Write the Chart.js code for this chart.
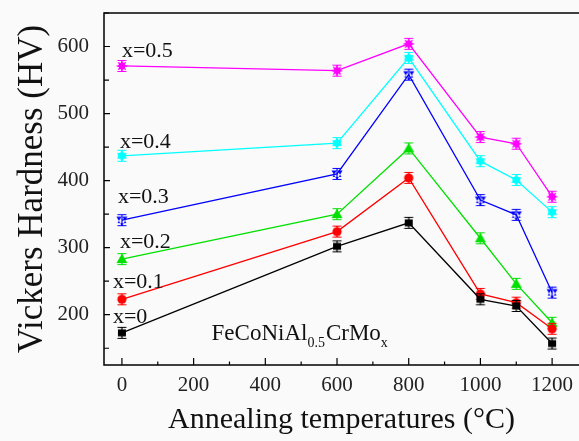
<!DOCTYPE html>
<html>
<head>
<meta charset="utf-8">
<script src="https://cdn.jsdelivr.net/npm/chart.js@4.4.1/dist/chart.umd.min.js"></script>
<style>
  html, body { margin: 0; padding: 0; background: #fafafa; overflow: hidden; }
  #wrap { width: 579px; height: 441px; }
</style>
</head>
<body>
<div id="wrap"><canvas id="hvChart"></canvas></div>
<script>
// annealing temperature (C) and hardness (HV) per Mo content
const temps = [0, 600, 800, 1000, 1100, 1200];
const hvMo0 = [173, 302, 337, 223, 213, 157];
const hvMo01 = [223, 324, 404, 231, 218, 179];
const hvMo02 = [283, 350, 448, 314, 246, 188];
const hvMo03 = [341, 410, 558, 371, 349, 233];
const hvMo04 = [437, 456, 583, 429, 401, 353];
const hvMo05 = [571, 564, 604, 465, 455, 376];
const seriesNames = ["x=0", "x=0.1", "x=0.2", "x=0.3", "x=0.4", "x=0.5"];
const xTicks = [0, 200, 400, 600, 800, 1000, 1200];
const yTicks = [200, 300, 400, 500, 600];

const SERIF = "'Liberation Serif', 'Times New Roman', serif";

// little marker images (shape + error bar caps)
function marker(color, shape) {
  const c = document.createElement("canvas");
  c.width = 14; c.height = 14;
  const g = c.getContext("2d");
  g.fillStyle = color;
  g.strokeStyle = color;
  g.lineWidth = 1.2;
  const cx = 7, cy = 7;
  g.beginPath();
  g.moveTo(2.5, 1.5); g.lineTo(11.5, 1.5);
  g.moveTo(2.5, 12.5); g.lineTo(11.5, 12.5);
  g.moveTo(cx, 1.5); g.lineTo(cx, 12.5);
  g.stroke();
  g.beginPath();
  if (shape === "square") {
    g.rect(cx - 4, cy - 3.5, 8, 7);
  } else if (shape === "circle") {
    g.arc(cx, cy, 4.6, 0, Math.PI * 2);
  } else if (shape === "triangle") {
    g.moveTo(cx, cy - 5.5); g.lineTo(cx + 5.5, cy + 4); g.lineTo(cx - 5.5, cy + 4); g.closePath();
  } else if (shape === "star") {
    g.moveTo(cx, cy + 6); g.lineTo(cx + 5.5, cy - 3.5); g.lineTo(cx - 5.5, cy - 3.5); g.closePath();
    g.moveTo(cx, cy - 4); g.lineTo(cx + 4.5, cy + 3); g.lineTo(cx - 4.5, cy + 3); g.closePath();
  } else if (shape === "hexagram") {
    for (let i = 0; i < 12; i++) {
      const r = i % 2 ? 3.6 : 5.6;
      const a = Math.PI / 6 * i - Math.PI / 2;
      g.lineTo(cx + r * Math.cos(a), cy + r * Math.sin(a));
    }
    g.closePath();
  } else {
    for (let i = 0; i < 16; i++) {
      const r = i % 2 ? 3.2 : 6;
      const a = Math.PI / 8 * i;
      g.lineTo(cx + r * Math.cos(a), cy + r * Math.sin(a));
    }
    g.closePath();
  }
  g.fill();
  return c;
}

const colors = ["#000000", "#ff0000", "#00e000", "#0000ff", "#00ffff", "#ff00ff"];
const shapes = ["square", "circle", "triangle", "star", "hexagram", "spiky"];
const values = [hvMo0, hvMo01, hvMo02, hvMo03, hvMo04, hvMo05];

// label offsets from the first point of each series (px)
const labelOffsets = [[-9, -10], [-9, -11], [-2, -11], [-4, -17], [-2, -8], [0, -9]];

const framePlugin = {
  id: "frame",
  afterDatasetsDraw(chart) {
    const { ctx, chartArea: a, scales } = chart;
    const xs = scales.x, ys = scales.y;
    ctx.save();
    ctx.strokeStyle = "#000";
    ctx.lineWidth = 1.5;
    ctx.beginPath();
    ctx.moveTo(chart.width, a.top); ctx.lineTo(a.left, a.top);
    ctx.lineTo(a.left, a.bottom); ctx.lineTo(chart.width, a.bottom);
    ctx.stroke();
    ctx.lineWidth = 1.2;
    ctx.beginPath();
    for (let v = 150; v <= 650; v += 50) {
      const y = ys.getPixelForValue(v);
      const len = v % 100 === 0 ? 6 : 5;
      ctx.moveTo(a.left, y); ctx.lineTo(a.left + len, y);
    }
    for (let v = 0; v <= 1250; v += 100) {
      const x = xs.getPixelForValue(v);
      const len = v % 200 === 0 ? 7 : 3.5;
      ctx.moveTo(x, a.bottom); ctx.lineTo(x, a.bottom - len);
    }
    ctx.stroke();

    ctx.fillStyle = "#111";
    ctx.font = "22px " + SERIF;
    ctx.textBaseline = "alphabetic";
    seriesNames.forEach((name, i) => {
      const p = chart.getDatasetMeta(i).data[0];
      ctx.fillText(name, p.x + labelOffsets[i][0], p.y + labelOffsets[i][1]);
    });

    // FeCoNiAl0.5CrMox
    let x = xs.getPixelForValue(250);
    const y = ys.getPixelForValue(163);
    const parts = [["FeCoNiAl", 0], ["0.5", 1], ["CrMo", 0], ["x", 1]];
    parts.forEach(([t, sub]) => {
      ctx.font = (sub ? "14px " : "23px ") + SERIF;
      ctx.fillText(t, x, y + (sub ? 7 : 0));
      x += ctx.measureText(t).width + (sub ? 1 : 0);
    });
    ctx.restore();
  }
};

new Chart(document.getElementById("hvChart"), {
  type: "line",
  data: {
    labels: temps,
    datasets: values.map((vals, i) => ({
      label: seriesNames[i],
      data: temps.map((t, j) => ({ x: t, y: vals[j] })),
      borderColor: colors[i],
      backgroundColor: colors[i],
      borderWidth: 1.3,
      pointStyle: marker(colors[i], shapes[i]),
      pointRadius: 7,
      tension: 0,
      fill: false,
    })),
  },
  options: {
    responsive: true,
    maintainAspectRatio: false,
    animation: false,
    devicePixelRatio: 1,
    layout: { autoPadding: false, padding: { top: 13, right: 0, left: 0, bottom: 0 } },
    plugins: { legend: { display: false }, tooltip: { enabled: false } },
    scales: {
      x: {
        type: "linear",
        min: -50,
        max: 1275,
        afterFit(s) { s.height = 76; s.paddingLeft = 0; s.paddingRight = 0; },
        afterBuildTicks(s) { s.ticks = xTicks.map(v => ({ value: v })); },
        grid: { display: false, drawTicks: false },
        border: { display: false },
        ticks: {
          color: "#222",
          font: { family: SERIF, size: 21 },
          padding: 8,
          maxRotation: 0,
          autoSkip: false,
          callback: v => String(v),
        },
        title: {
          display: true,
          text: "Annealing temperatures (°C)",
          color: "#111",
          font: { family: SERIF, size: 30, lineHeight: 1 },
          padding: { top: 0, bottom: 6 },
        },
      },
      y: {
        min: 125,
        max: 650,
        afterFit(s) { s.width = 104; s.paddingTop = 0; s.paddingBottom = 0; },
        afterBuildTicks(s) { s.ticks = yTicks.map(v => ({ value: v })); },
        grid: { display: false, drawTicks: false },
        border: { display: false },
        ticks: {
          color: "#222",
          font: { family: SERIF, size: 21 },
          padding: 15,
          callback: v => String(v),
        },
        title: {
          display: true,
          text: "Vickers Hardness (HV)",
          color: "#111",
          font: { family: SERIF, size: 35, lineHeight: 1 },
          padding: { top: 15, bottom: 0 },
        },
      },
    },
  },
  plugins: [framePlugin],
});
</script>
</body>
</html>
